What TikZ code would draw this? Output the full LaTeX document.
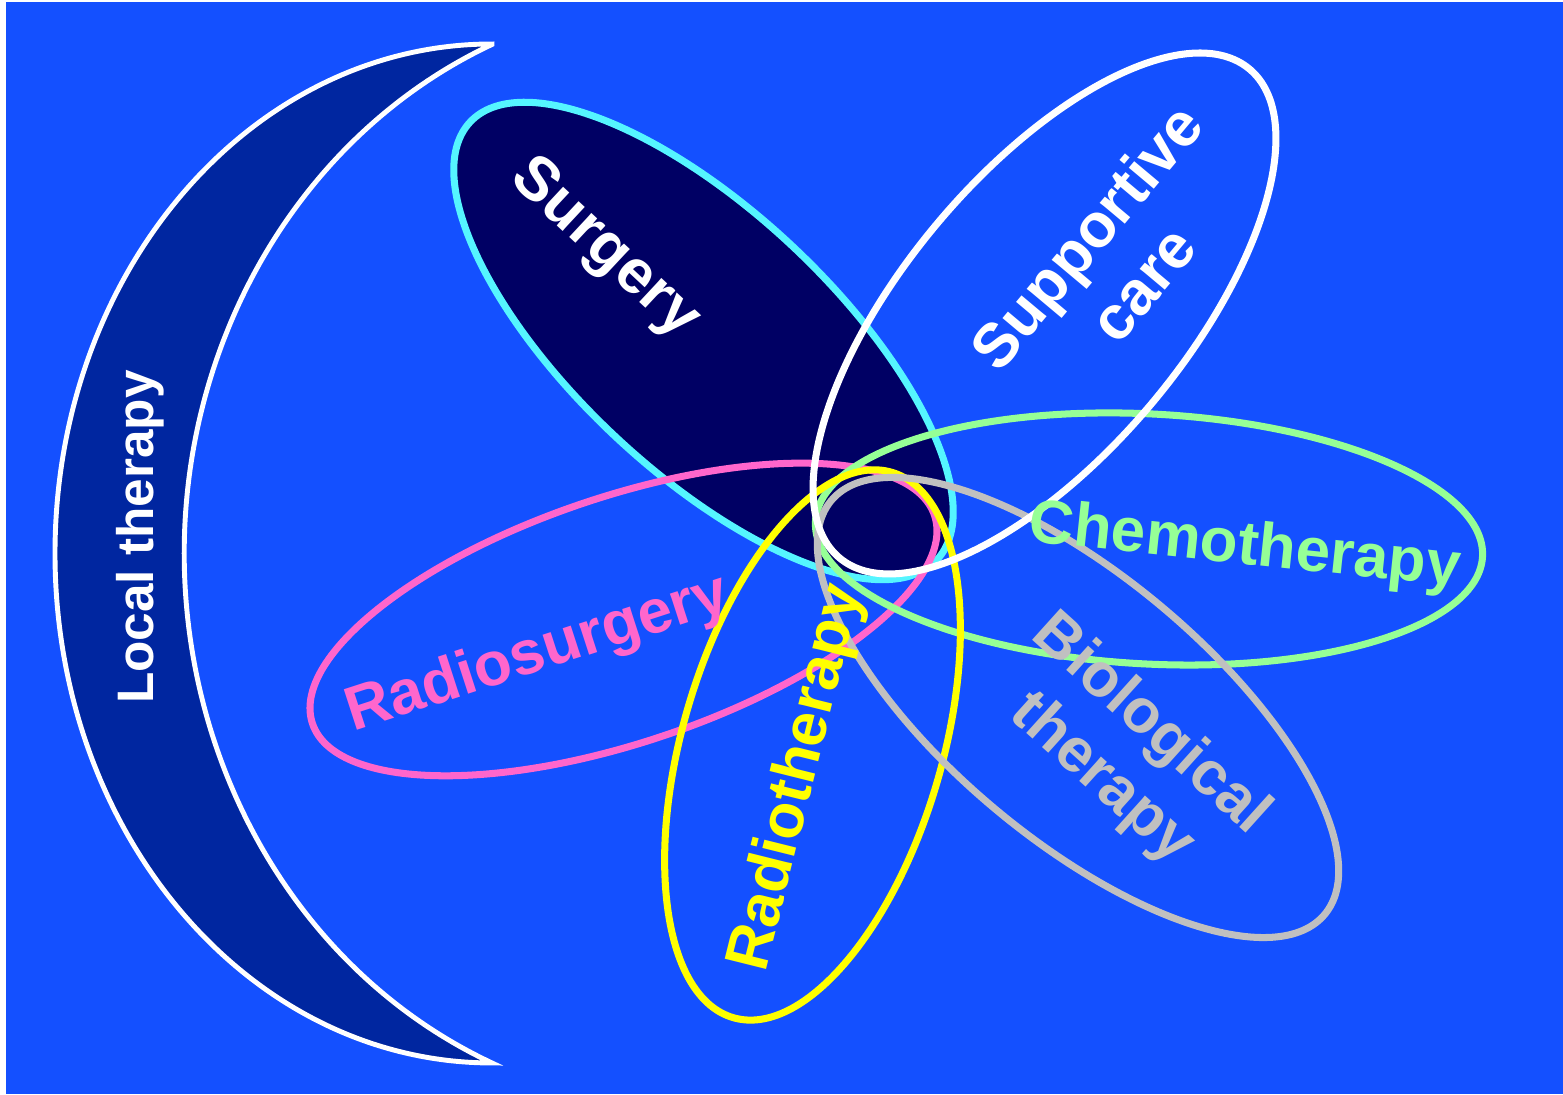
\documentclass[tikz,border=0pt]{standalone}
\usepackage{fontspec}
\setmainfont{Liberation Sans}
\usepackage{tikz}
\definecolor{bgblue}{RGB}{20,80,255}
\definecolor{moonblue}{RGB}{0,38,160}
\definecolor{navyfill}{RGB}{0,0,100}
\definecolor{surgcyan}{RGB}{85,245,255}
\definecolor{rspink}{RGB}{255,102,204}
\definecolor{rtyellow}{RGB}{255,255,0}
\definecolor{chgreen}{RGB}{150,255,150}
\definecolor{biogray}{RGB}{192,192,192}

\begin{document}
\begin{tikzpicture}[
    petal/.style={line width=2pt},
    tag/.style={font=\bfseries\fontsize{17.6}{20.8}\selectfont, align=center, inner sep=0pt}]
	\useasboundingbox (0,0) rectangle (15.63,10.95);
	\fill[white] (0,0) rectangle (15.63,10.95);
	\fill[bgblue] (0.06,0.01) rectangle (15.63,10.93);

	% crescent
	\draw[fill=moonblue, draw=white, line width=1.4pt] (4.92,10.51)
		arc[start angle=90, end angle=270, x radius=4.37, y radius=5.095]
		arc[start angle=246.7, end angle=113.3, x radius=5.09, y radius=5.545] -- cycle;

	% petals
	\draw[petal, draw=surgcyan, fill=navyfill, rotate around={-43.2:(7.035,7.54)}] (7.035,7.54) ellipse [x radius=3.2, y radius=1.3];
	\draw[petal, draw=rspink, rotate around={18.5:(6.235,4.755)}] (6.235,4.755) ellipse [x radius=3.28, y radius=1.23];
	\draw[petal, draw=chgreen, rotate around={-3:(11.49,5.56)}] (11.49,5.56) ellipse [x radius=3.34, y radius=1.25];
	\draw[petal, draw=rtyellow, rotate around={73.8:(8.125,3.5)}] (8.125,3.5) ellipse [x radius=2.84, y radius=1.3];
	\draw[petal, draw=biogray, rotate around={-40:(10.78,3.875)}] (10.78,3.875) ellipse [x radius=3.22, y radius=1.31];
	\draw[petal, draw=white, rotate around={50:(10.445,7.815)}] (10.445,7.815) ellipse [x radius=3.19, y radius=1.4];

	% labels
	\node[tag, text=white, font=\bfseries\fontsize{14.6}{17}\selectfont, rotate=90] (local) at (1.40,5.58) {Local therapy};
	\node[tag, text=white, rotate=-43] (surg) at (6.04,8.46) {Surgery};
	\node[tag, text=white, rotate=50] (supp) at (11.14,8.35) {Supportive\\care};
	\node[tag, text=chgreen, rotate=-6] (chemo) at (12.45,5.47) {Chemotherapy};
	\node[tag, text=biogray, rotate=-42] (bio) at (11.26,3.43) {Biological\\therapy};
	\node[tag, text=rtyellow, rotate=76] (radio) at (7.98,3.17) {Radiotherapy};
	\node[tag, text=rspink, rotate=18] (rsurg) at (5.38,4.40) {Radiosurgery};
\end{tikzpicture}
\end{document}
